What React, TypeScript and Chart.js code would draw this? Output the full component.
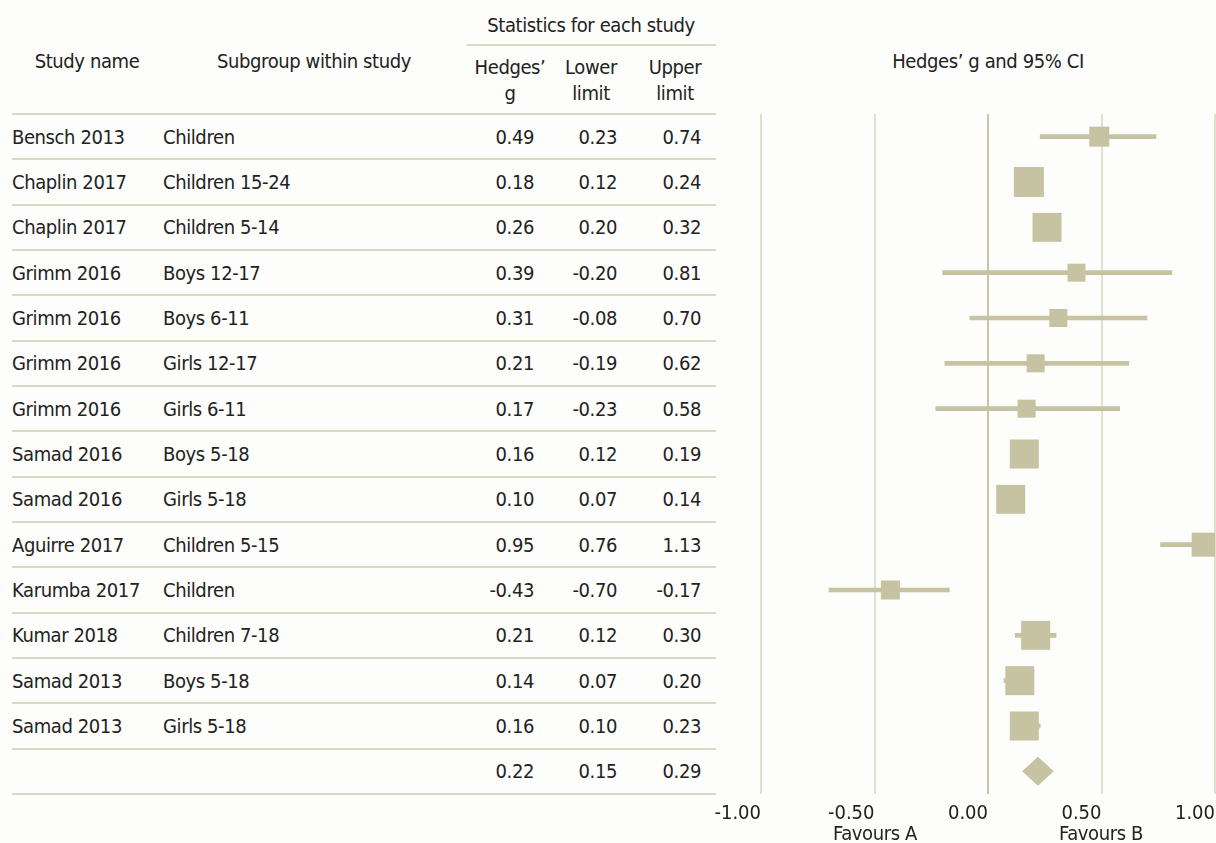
import React, { useEffect, useRef } from "react";
import { Chart, registerables } from "chart.js";

Chart.register(...registerables);

const studies = [
  "Bensch 2013", "Chaplin 2017", "Chaplin 2017", "Grimm 2016", "Grimm 2016", "Grimm 2016", "Grimm 2016",
  "Samad 2016", "Samad 2016", "Aguirre 2017", "Karumba 2017", "Kumar 2018", "Samad 2013", "Samad 2013",
];
const subgroups = [
  "Children", "Children 15-24", "Children 5-14", "Boys 12-17", "Boys 6-11", "Girls 12-17", "Girls 6-11",
  "Boys 5-18", "Girls 5-18", "Children 5-15", "Children", "Children 7-18", "Boys 5-18", "Girls 5-18",
];
const hedges = [0.49, 0.18, 0.26, 0.39, 0.31, 0.21, 0.17, 0.16, 0.10, 0.95, -0.43, 0.21, 0.14, 0.16];
const lower = [0.23, 0.12, 0.20, -0.20, -0.08, -0.19, -0.23, 0.12, 0.07, 0.76, -0.70, 0.12, 0.07, 0.10];
const upper = [0.74, 0.24, 0.32, 0.81, 0.70, 0.62, 0.58, 0.19, 0.14, 1.13, -0.17, 0.30, 0.20, 0.23];
// relative weight: side of the square marker in px
const weights = [20, 30, 29, 18, 18, 18, 18, 29, 29, 24, 19, 29, 29, 29];
const summaryG = 0.22;
const summaryLower = 0.15;
const summaryUpper = 0.29;
const xTicks = [-1, -0.5, 0, 0.5, 1];

const FONT = '"DejaVu Sans", sans-serif';
const FS = 20;
const TEXT = "#222222";
const MARK = "#c6c3a2";
const RULE = "#dad8c2";
const ROW_TOP = 114;
const ROW_H = 45.33;
const NROWS = studies.length + 1;

const fmt = (v: number) => v.toFixed(2);

function Txt(props: { x: number; y: number; align?: "left" | "center" | "right"; children: React.ReactNode }) {
  const { x, y, align = "left", children } = props;
  const w = 400;
  const left = align === "left" ? x : align === "right" ? x - w : x - w / 2;
  return (
    <div
      style={{
        position: "absolute",
        left,
        top: y - 13,
        width: w,
        height: 26,
        lineHeight: "26px",
        textAlign: align,
        whiteSpace: "nowrap",
        fontFamily: FONT,
        fontStretch: "condensed",
        fontSize: FS,
        letterSpacing: "-0.4px",
        color: TEXT,
      }}
    >
      {children}
    </div>
  );
}

function Rule(props: { x1: number; x2: number; y: number }) {
  return (
    <div
      style={{
        position: "absolute",
        left: props.x1,
        top: props.y - 1,
        width: props.x2 - props.x1,
        height: 2,
        background: RULE,
      }}
    />
  );
}

const diamondPlugin = {
  id: "summaryDiamond",
  afterDatasetsDraw(chart: any) {
    const xs = chart.scales.x;
    const ys = chart.scales.y;
    const ctx = chart.ctx;
    const yc = ys.getPixelForValue(studies.length);
    const half = 14.5;
    ctx.save();
    ctx.beginPath();
    ctx.moveTo(xs.getPixelForValue(summaryLower), yc);
    ctx.lineTo(xs.getPixelForValue(summaryG), yc - half);
    ctx.lineTo(xs.getPixelForValue(summaryUpper), yc);
    ctx.lineTo(xs.getPixelForValue(summaryG), yc + half);
    ctx.closePath();
    ctx.fillStyle = MARK;
    ctx.fill();
    ctx.restore();
  },
};

function ForestChart() {
  const ref = useRef<HTMLCanvasElement | null>(null);
  useEffect(() => {
    if (!ref.current) return;
    const chart = new Chart(ref.current, {
      type: "scatter",
      data: {
        datasets: [
          {
            type: "bar",
            indexAxis: "y",
            data: hedges.map((_, i) => ({ y: i, x: [lower[i], upper[i]] })),
            backgroundColor: MARK,
            borderWidth: 0,
            barThickness: 4,
          } as any,
          {
            type: "scatter",
            data: hedges.map((g, i) => ({ x: g, y: i })),
            pointStyle: "rect",
            pointRadius: weights.map((w) => w / 2 / Math.SQRT1_2),
            pointHoverRadius: weights.map((w) => w / 2 / Math.SQRT1_2),
            backgroundColor: MARK,
            borderWidth: 0,
          } as any,
        ],
      },
      options: {
        animation: false,
        responsive: false,
        maintainAspectRatio: false,
        events: [],
        layout: { autoPadding: false, padding: { left: 61, right: 1, top: 14, bottom: 0 } },
        plugins: { legend: { display: false }, tooltip: { enabled: false } },
        scales: {
          x: {
            type: "linear",
            min: -1,
            max: 1,
            offset: false,
            afterBuildTicks: (scale: any) => {
              scale.ticks = xTicks.map((v) => ({ value: v }));
            },
            afterFit: (scale: any) => {
              scale.height = 49;
            },
            border: { display: false },
            grid: {
              offset: false,
              drawTicks: true,
              tickLength: 8,
              tickColor: "rgba(0,0,0,0)",
              lineWidth: 2,
              color: (c: any) => (c.tick && c.tick.value === 0 ? "#c9c6a8" : "#e2dfd1"),
            },
            ticks: {
              align: "end",
              padding: 0,
              color: TEXT,
              font: { family: FONT, size: FS, weight: "condensed" },
              callback: (v: any) => fmt(Number(v)),
              maxRotation: 0,
            },
          },
          y: {
            type: "linear",
            display: false,
            reverse: true,
            offset: false,
            grid: { offset: false },
            min: -0.5,
            max: NROWS - 0.5,
          },
        },
      } as any,
      plugins: [diamondPlugin],
    });
    return () => chart.destroy();
  }, []);
  return (
    <canvas
      ref={ref}
      width={516}
      height={743}
      style={{ position: "absolute", left: 700, top: 100, width: 516, height: 743 }}
    />
  );
}

export default function App() {
  const rowCenter = (i: number) => ROW_TOP + (i + 0.5) * ROW_H;
  return (
    <div
      style={{
        position: "absolute",
        left: 0,
        top: 0,
        width: 1216,
        height: 843,
        overflow: "hidden",
        background: "#fdfdfb",
      }}
    >
      <Txt x={591} y={25} align="center">Statistics for each study</Txt>
      <Rule x1={467} x2={716} y={44.5} />
      <Txt x={87} y={61} align="center">Study name</Txt>
      <Txt x={314} y={61} align="center">Subgroup within study</Txt>
      <Txt x={510} y={67} align="center">Hedges’</Txt>
      <Txt x={510} y={93} align="center">g</Txt>
      <Txt x={591} y={67} align="center">Lower</Txt>
      <Txt x={591} y={93} align="center">limit</Txt>
      <Txt x={675} y={67} align="center">Upper</Txt>
      <Txt x={675} y={93} align="center">limit</Txt>
      <Txt x={988} y={61} align="center">Hedges’ g and 95% CI</Txt>
      <Rule x1={12} x2={716} y={ROW_TOP} />
      {studies.map((s, i) => (
        <React.Fragment key={i}>
          <Txt x={12} y={rowCenter(i)}>{s}</Txt>
          <Txt x={163} y={rowCenter(i)}>{subgroups[i]}</Txt>
          <Txt x={534} y={rowCenter(i)} align="right">{fmt(hedges[i])}</Txt>
          <Txt x={617} y={rowCenter(i)} align="right">{fmt(lower[i])}</Txt>
          <Txt x={701} y={rowCenter(i)} align="right">{fmt(upper[i])}</Txt>
          <Rule x1={12} x2={716} y={ROW_TOP + (i + 1) * ROW_H} />
        </React.Fragment>
      ))}
      <Txt x={534} y={rowCenter(studies.length)} align="right">{fmt(summaryG)}</Txt>
      <Txt x={617} y={rowCenter(studies.length)} align="right">{fmt(summaryLower)}</Txt>
      <Txt x={701} y={rowCenter(studies.length)} align="right">{fmt(summaryUpper)}</Txt>
      <Rule x1={12} x2={716} y={ROW_TOP + NROWS * ROW_H} />
      <ForestChart />
      <Txt x={875} y={833} align="center">Favours A</Txt>
      <Txt x={1101} y={833} align="center">Favours B</Txt>
    </div>
  );
}
